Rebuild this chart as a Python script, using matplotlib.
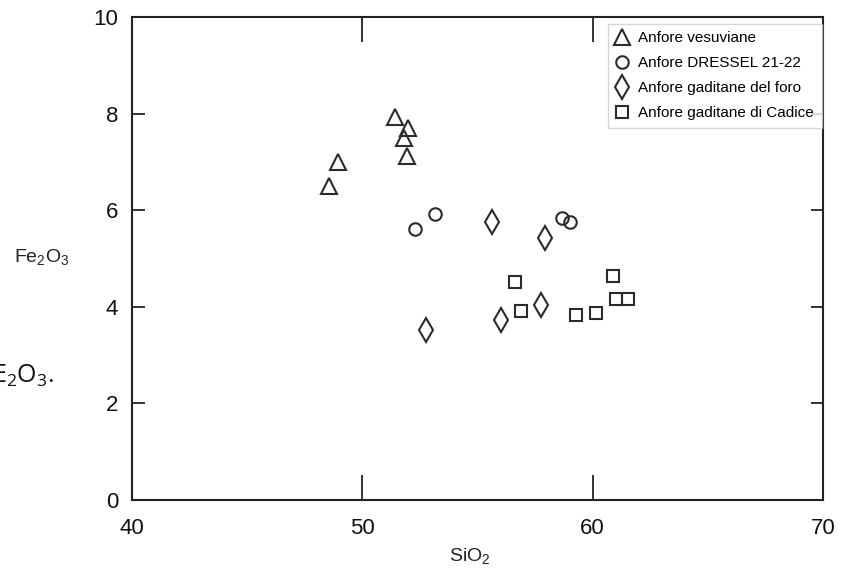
import matplotlib.pyplot as plt

plt.rcParams['font.family'] = ['Liberation Sans', 'DejaVu Sans']
plt.rcParams['mathtext.default'] = 'regular'

# Data (SiO2 vs Fe2O3)
vesuv_x = [51.43, 51.97, 51.80, 51.94, 48.94, 48.54]
vesuv_y = [7.93, 7.70, 7.50, 7.12, 7.00, 6.50]

dressel_x = [52.30, 53.14, 58.68, 59.01]
dressel_y = [5.62, 5.92, 5.83, 5.76]

foro_x = [55.61, 57.91, 52.77, 56.04, 57.74]
foro_y = [5.76, 5.43, 3.52, 3.73, 4.04]

cadice_x = [56.61, 56.90, 59.29, 60.14, 60.88, 61.00, 61.53]
cadice_y = [4.52, 3.92, 3.84, 3.87, 4.64, 4.16, 4.16]

labels = ['Anfore vesuviane', 'Anfore DRESSEL 21-22',
          'Anfore gaditane del foro', 'Anfore gaditane di Cadice']

ink = '#2b2b2b'

fig = plt.figure(figsize=(8.47, 5.70), dpi=100)
ax = fig.add_axes([0.1558, 0.1228, 0.8159, 0.8474])

common = dict(linestyle='none', markerfacecolor='none',
              markeredgecolor=ink, markeredgewidth=1.5)
ax.plot(vesuv_x, vesuv_y, marker='^', markersize=11, label=labels[0], **common)
ax.plot(dressel_x, dressel_y, marker='o', markersize=9, label=labels[1], **common)
ax.plot(foro_x, foro_y, marker='d', markersize=12.5, label=labels[2], **common)
ax.plot(cadice_x, cadice_y, marker='s', markersize=8.5, label=labels[3], **common)

# Axis limits and ticks
ax.set_xlim(40, 70)
ax.set_ylim(0, 10)
ax.set_xticks([40, 50, 60, 70])
ax.set_yticks([0, 2, 4, 6, 8, 10])
ax.tick_params(axis='x', direction='in', length=18, width=1.2,
               top=True, pad=13, labelsize=16, colors='#111')
ax.tick_params(axis='y', direction='in', length=9, width=1.2,
               right=True, pad=10, labelsize=16, colors='#111')
for sp in ax.spines.values():
    sp.set_linewidth(1.5)
    sp.set_color('#222')

# Axis labels
ax.set_xlabel('SiO$_2$', fontsize=14, color='#222')
ax.xaxis.set_label_coords(0.489, -0.095)
ax.set_ylabel('Fe$_2$O$_3$', fontsize=14, rotation=0, color='#222',
              ha='center', va='center')
ax.yaxis.set_label_coords(-0.13, 0.503)

leg = ax.legend(loc='upper right', bbox_to_anchor=(0.998, 0.986),
                borderaxespad=0, fontsize=11, frameon=True, fancybox=False,
                handlelength=0.9, handletextpad=0.6, labelspacing=0.72,
                borderpad=0.5)
leg.get_frame().set_edgecolor('#cccccc')
leg.get_frame().set_linewidth(1.0)

# Stray caption fragment cut off at the left edge
fig.text(-0.009, 1 - 383 / 570, 'E$_2$O$_3$.', fontsize=18,
         family=['Open Sans', 'DejaVu Sans'], ha='left', va='baseline',
         color='#111')

fig.savefig('out.png', dpi=100)
